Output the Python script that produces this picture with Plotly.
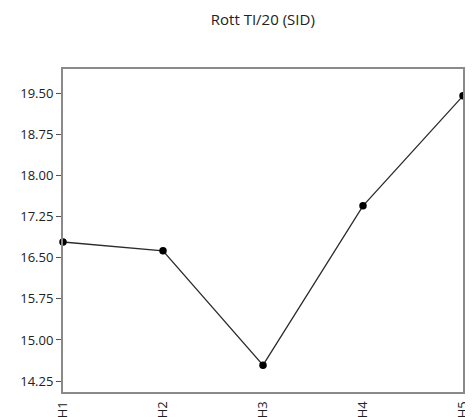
import plotly.graph_objects as go

categories = ["H1", "H2", "H3", "H4", "H5"]
values = [16.79, 16.63, 14.54, 17.45, 19.46]
y_ticks = [14.25, 15.00, 15.75, 16.50, 17.25, 18.00, 18.75, 19.50]
y_labels = ["14.25", "15.00", "15.75", "16.50", "17.25", "18.00", "18.75", "19.50"]
title = "Rott TI/20 (SID)"

fig = go.Figure()
fig.add_trace(go.Scatter(
    x=categories, y=values, mode="lines+markers",
    line=dict(color="#2b2b2b", width=1.3),
    marker=dict(color="black", size=7.5),
    cliponaxis=False, showlegend=False,
))

# page body has an 8px default margin, so the figure is offset by 8px
fig.update_layout(
    width=465, height=409,
    margin=dict(l=55, r=10, t=61, b=25, autoexpand=False),
    plot_bgcolor="white", paper_bgcolor="white",
    font=dict(family="Open Sans, Segoe UI, sans-serif", color="#222", size=13),
    title=dict(text=title, x=0.548, xanchor="center", y=0.971, yanchor="middle",
               font=dict(size=15, color="#222")),
)
fig.update_xaxes(
    type="category", range=[0, 4], showgrid=False, tickangle=-90,
    showline=True, linecolor="#8a8a8a", linewidth=2, mirror=True,
    ticks="", tickfont=dict(size=13), ticklabelstandoff=2, automargin=False,
)
fig.update_yaxes(
    range=[14.05, 19.95], tickvals=y_ticks, ticktext=y_labels, showgrid=False,
    zeroline=False, showline=True, linecolor="#8a8a8a", linewidth=2, mirror=True,
    ticks="outside", ticklen=5, tickcolor="#555", tickwidth=1,
    tickfont=dict(size=13), automargin=False,
)

fig.write_html("out.html")
